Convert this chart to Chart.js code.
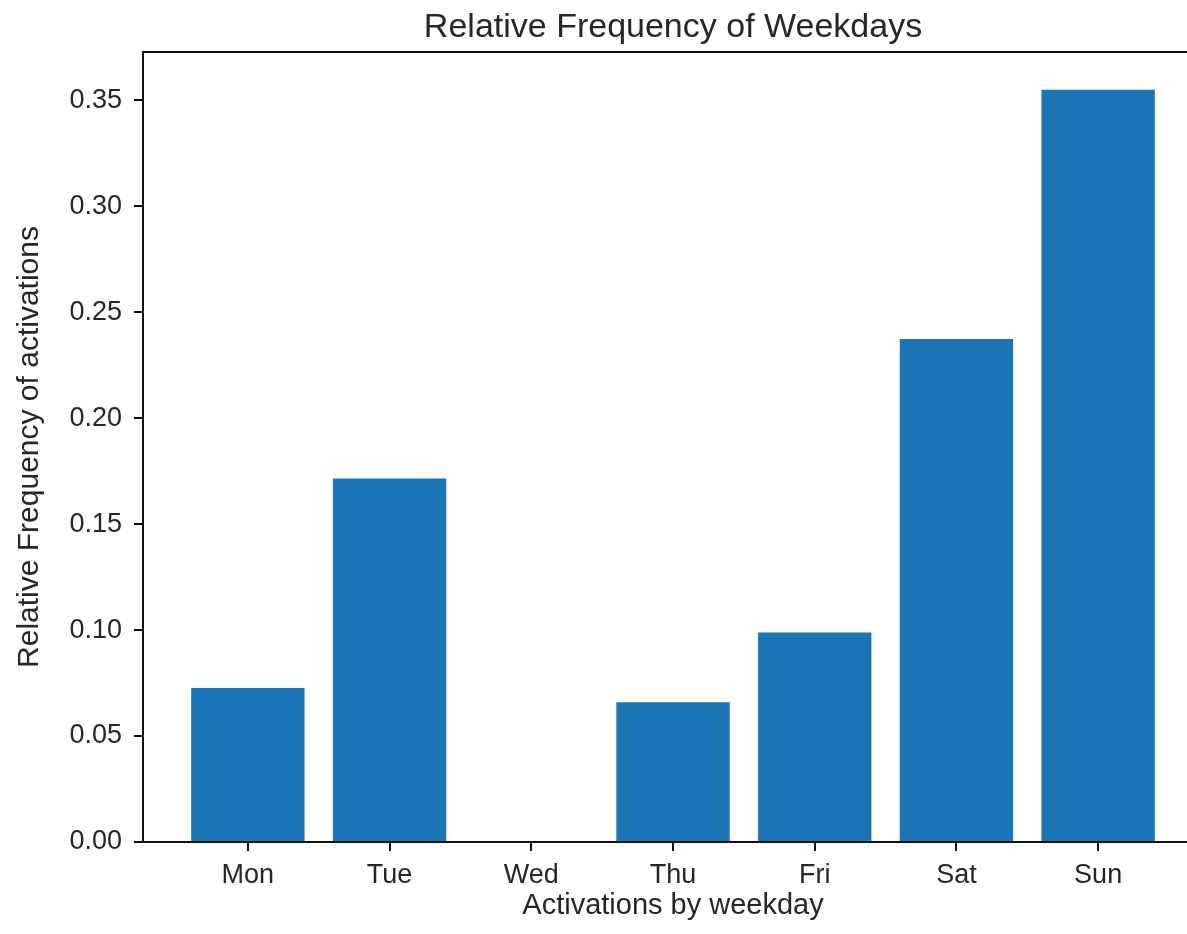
<!DOCTYPE html>
<html>
<head>
<meta charset="utf-8">
<script src="https://cdn.jsdelivr.net/npm/chart.js@4"></script>
<style>
html,body{margin:0;padding:0;background:#fff;overflow:hidden}
#wrap{position:absolute;left:0;top:0;width:1215px;height:934px}
</style>
</head>
<body>
<div id="wrap"><canvas id="myChart"></canvas></div>
<script>
var days=["Mon","Tue","Wed","Thu","Fri","Sat","Sun"]
var freq=[0.0727,0.1715,0,0.0659,0.0989,0.2374,0.3550]
var yTicks=[0,0.05,0.10,0.15,0.20,0.25,0.30,0.35]
var chartTitle="Relative Frequency of Weekdays"
var xTitle="Activations by weekday"
var yTitle="Relative Frequency of activations"

var fontFam="'Liberation Sans', Arial, Helvetica, sans-serif"
var ink="#262626"

// spines on top/right + title, matplotlib style
var frame={
  id:"frame",
  afterDraw:function(chart){
    var c=chart.ctx, a=chart.chartArea
    c.save()
    c.strokeStyle="#111"
    c.lineWidth=2
    c.beginPath()
    c.moveTo(a.left,a.top)
    c.lineTo(a.right,a.top)
    c.lineTo(a.right,a.bottom)
    c.stroke()
    c.fillStyle=ink
    c.font="34px "+fontFam
    c.textAlign="center"
    c.textBaseline="alphabetic"
    c.fillText(chartTitle,(a.left+a.right)/2,37)
    c.restore()
  }
}

var ctx=document.getElementById("myChart")
var myChart=new Chart(ctx,{
  type:"bar",
  data:{
    datasets:[{
      data:days.map(function(d,i){return {x:i,y:freq[i]}}),
      backgroundColor:"#1b75b4",
      borderWidth:0,
      categoryPercentage:1,
      barPercentage:0.8
    }]
  },
  options:{
    responsive:true,
    maintainAspectRatio:false,
    animation:false,
    layout:{padding:{top:52,right:12,left:0,bottom:0}},
    plugins:{legend:{display:false},tooltip:{enabled:false}},
    scales:{
      x:{
        type:"linear",
        min:-0.74,
        max:6.74,
        offset:false,
        afterFit:function(s){s.height=92},
        border:{display:true,color:"#111",width:2},
        grid:{display:true,offset:false,drawOnChartArea:false,drawTicks:true,tickLength:9,color:"#111",lineWidth:2},
        ticks:{
          stepSize:1,
          includeBounds:false,
          autoSkip:false,
          maxRotation:0,
          padding:8,
          color:ink,
          font:{family:fontFam,size:27},
          callback:function(v){return days[v]}
        },
        title:{display:true,text:xTitle,color:ink,font:{family:fontFam,size:29},padding:{top:0,bottom:11}}
      },
      y:{
        type:"linear",
        min:0,
        max:0.3728,
        afterFit:function(s){s.width=143},
        afterBuildTicks:function(s){s.ticks=yTicks.map(function(v){return {value:v}})},
        border:{display:true,color:"#111",width:2},
        grid:{display:true,drawOnChartArea:false,drawTicks:true,tickLength:9,color:"#111",lineWidth:2},
        ticks:{
          padding:12,
          color:ink,
          font:{family:fontFam,size:27},
          callback:function(v){return v.toFixed(2)}
        },
        title:{display:true,text:yTitle,color:ink,font:{family:fontFam,size:30},padding:{top:12,bottom:0}}
      }
    }
  },
  plugins:[frame]
})
</script>
</body>
</html>
